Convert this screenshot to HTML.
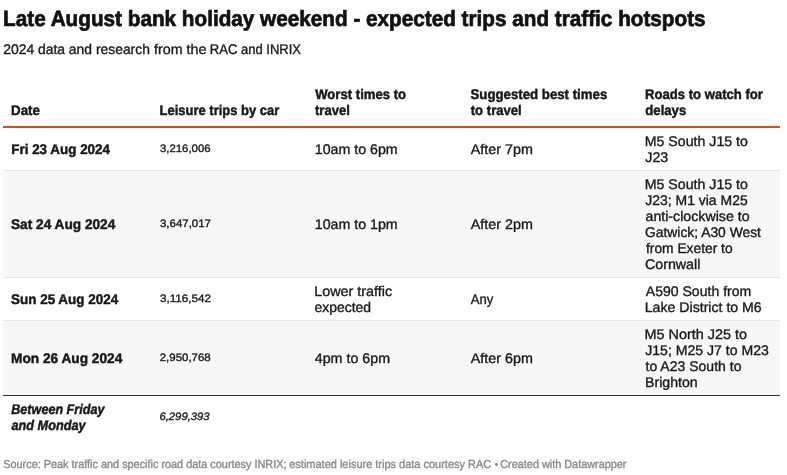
<!DOCTYPE html>
<html>
<head>
<meta charset="utf-8">
<title>Late August bank holiday weekend</title>
<style>
*{box-sizing:border-box;margin:0;padding:0}
html,body{width:787px;height:475px;background:#fff;overflow:hidden}
body{will-change:transform;font-family:"Liberation Sans",sans-serif;color:#181818;position:relative}
.t{left:0;text-rendering:geometricPrecision;-webkit-text-stroke:0.35px currentColor;position:absolute;white-space:nowrap;line-height:16px;font-size:14px;transform-origin:0 0}
.h{-webkit-text-stroke-width:0.7px;font-size:22px;line-height:24px;font-weight:bold;color:#111}
.s{line-height:17px}
.b{font-weight:bold;-webkit-text-stroke-width:0.45px}
.n{font-size:10.8px}
.i{font-style:italic}
.src{font-size:11.6px;line-height:14px;color:#888}
.bg{position:absolute;left:3px;width:777px}

</style>
</head>
<body>
<div class="bg" style="top:126px;height:2px;background:#de500e"></div>
<div class="bg" style="top:170px;height:108px;background:#f7f7f7;border-top:1px solid #e6e6e6;border-bottom:1px solid #e6e6e6"></div>
<div class="bg" style="top:320px;height:75px;background:#f7f7f7;border-top:1px solid #e6e6e6"></div>
<div class="bg" style="top:395px;height:1px;background:#333"></div>
<div class="bg" style="left:494.8px;top:463.1px;width:2.8px;height:2.8px;border-radius:50%;background:#888"></div>

<div class="t h" style="top:7px;transform:translateX(3.07px) scaleX(0.9416)">Late August bank holiday weekend - expected trips and traffic hotspots</div>
<div class="t s" style="top:41px;transform:translateX(3.25px) scaleX(0.9984)">2024</div>
<div class="t s" style="top:41px;transform:translateX(38.00px) scaleX(0.9915)">data and research</div>
<div class="t s" style="top:41px;transform:translateX(154.00px) scaleX(1.0196)">from the</div>
<div class="t s" style="top:41px;transform:translateX(209.82px) scaleX(0.9299)">RAC and INRIX</div>
<div class="t b" style="top:102px;transform:translateX(11.04px) scaleX(0.9522)">Date</div>
<div class="t b" style="top:102px;transform:translateX(159.56px) scaleX(0.9272)">Leisure trips by car</div>
<div class="t b" style="top:86px;transform:translateX(315.24px) scaleX(0.9359)">Worst times to</div>
<div class="t b" style="top:102px;transform:translateX(314.99px) scaleX(0.9348)">travel</div>
<div class="t b" style="top:86px;transform:translateX(470.51px) scaleX(0.9449)">Suggested best times</div>
<div class="t b" style="top:102px;transform:translateX(470.74px) scaleX(0.9368)">to travel</div>
<div class="t b" style="top:86px;transform:translateX(645.05px) scaleX(0.9353)">Roads to watch for</div>
<div class="t b" style="top:102px;transform:translateX(645.27px) scaleX(0.9407)">delays</div>
<div class="t b" style="top:141px;transform:translateX(11.27px) scaleX(0.9590)">Fri 23 Aug 2024</div>
<div class="t n" style="top:141px;transform:translateX(159.98px) scaleX(1.0527)">3,216,006</div>
<div class="t" style="top:141px;transform:translateX(314.74px) scaleX(1.0150)">10am to 6pm</div>
<div class="t" style="top:141px;transform:translateX(470.75px) scaleX(1.0233)">After 7pm</div>
<div class="t" style="top:133px;transform:translateX(644.74px) scaleX(1.0119)">M5 South J15 to</div>
<div class="t" style="top:149px;transform:translateX(645.25px) scaleX(1.0229)">J23</div>
<div class="t b" style="top:216px;transform:translateX(11.00px) scaleX(0.9762)">Sat 24 Aug 2024</div>
<div class="t n" style="top:216px;transform:translateX(159.98px) scaleX(1.0621)">3,647,017</div>
<div class="t" style="top:216px;transform:translateX(314.74px) scaleX(1.0150)">10am to 1pm</div>
<div class="t" style="top:216px;transform:translateX(470.75px) scaleX(1.0233)">After 2pm</div>
<div class="t" style="top:176px;transform:translateX(644.74px) scaleX(1.0119)">M5 South J15 to</div>
<div class="t" style="top:192px;transform:translateX(645.25px) scaleX(0.9971)">J23; M1 via M25</div>
<div class="t" style="top:208px;transform:translateX(645.49px) scaleX(1.0138)">anti-clockwise to</div>
<div class="t" style="top:224px;transform:translateX(645.01px) scaleX(0.9889)">Gatwick; A30 West</div>
<div class="t" style="top:240px;transform:translateX(646.00px) scaleX(0.9851)">from Exeter to</div>
<div class="t" style="top:256px;transform:translateX(644.99px) scaleX(1.0160)">Cornwall</div>
<div class="t b" style="top:291px;transform:translateX(11.00px) scaleX(0.9610)">Sun 25 Aug 2024</div>
<div class="t n" style="top:291px;transform:translateX(159.98px) scaleX(1.0796)">3,116,542</div>
<div class="t" style="top:283px;transform:translateX(314.22px) scaleX(1.0261)">Lower traffic</div>
<div class="t" style="top:299px;transform:translateX(314.50px) scaleX(0.9964)">expected</div>
<div class="t" style="top:291px;transform:translateX(470.74px) scaleX(0.9328)">Any</div>
<div class="t" style="top:283px;transform:translateX(645.75px) scaleX(1.0043)">A590 South from</div>
<div class="t" style="top:299px;transform:translateX(644.74px) scaleX(1.0092)">Lake District to M6</div>
<div class="t b" style="top:350px;transform:translateX(11.02px) scaleX(0.9770)">Mon 26 Aug 2024</div>
<div class="t n" style="top:350px;transform:translateX(159.73px) scaleX(1.0621)">2,950,768</div>
<div class="t" style="top:350px;transform:translateX(314.75px) scaleX(1.0185)">4pm to 6pm</div>
<div class="t" style="top:350px;transform:translateX(470.75px) scaleX(1.0233)">After 6pm</div>
<div class="t" style="top:326px;transform:translateX(644.47px) scaleX(1.0305)">M5 North J25 to</div>
<div class="t" style="top:342px;transform:translateX(645.25px) scaleX(1.0053)">J15; M25 J7 to M23</div>
<div class="t" style="top:358px;transform:translateX(645.50px) scaleX(1.0021)">to A23 South to</div>
<div class="t" style="top:374px;transform:translateX(644.99px) scaleX(1.0099)">Brighton</div>
<div class="t b i" style="top:401px;transform:translateX(11.25px) scaleX(0.9007)">Between Friday</div>
<div class="t b i" style="top:417px;transform:translateX(11.48px) scaleX(0.9070)">and Monday</div>
<div class="t n i" style="top:409px;transform:translateX(159.48px) scaleX(1.0421)">6,299,393</div>
<div class="t src" style="top:458px;transform:translateX(3.27px) scaleX(0.9378)">Source: Peak traffic and specific road data courtesy INRIX;</div>
<div class="t src" style="top:458px;transform:translateX(289.27px) scaleX(0.9468)">estimated leisure trips data courtesy RAC</div>
<div class="t src" style="top:458px;transform:translateX(500.28px) scaleX(0.9367)">Created with Datawrapper</div>
</body>
</html>
